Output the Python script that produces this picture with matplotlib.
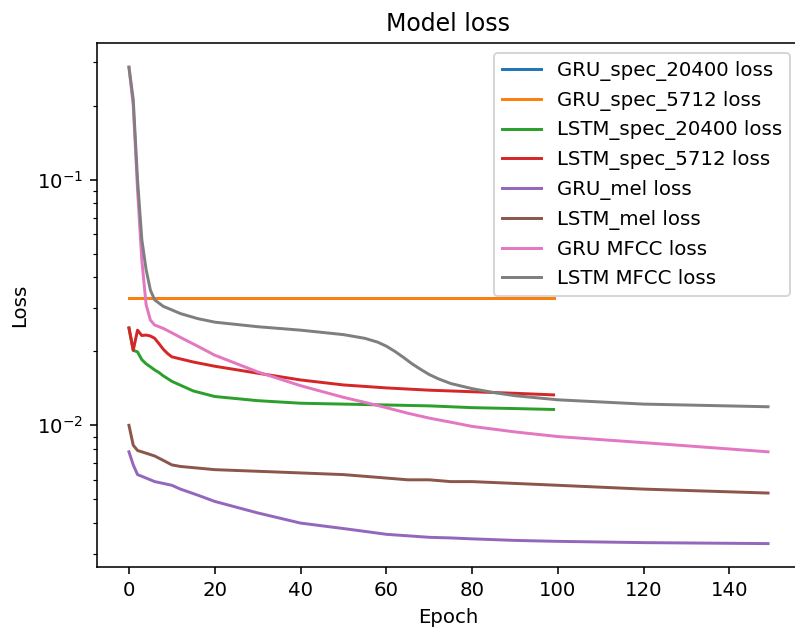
import numpy as np
import matplotlib
matplotlib.use("Agg")
import matplotlib.pyplot as plt

ep_100 = [0, 99]
gru_spec_20400 = [0.033, 0.033]
gru_spec_5712 = [0.033, 0.033]

ep_lstm_spec = [0, 1, 2, 3, 4, 5, 6, 7, 8, 9, 10, 15, 20, 30, 40, 50, 60, 70, 80, 90, 99]
lstm_spec_5712 = [0.0249, 0.0202, 0.0244, 0.0232, 0.0233, 0.0231, 0.0226, 0.0215, 0.0204, 0.0196, 0.0190,
                  0.0181, 0.0174, 0.0163, 0.0153, 0.0146, 0.0142, 0.0139, 0.0137, 0.0135, 0.0133]
lstm_spec_20400 = [0.0249, 0.0202, 0.0199, 0.0185, 0.0178, 0.0173, 0.0168, 0.0164, 0.0159, 0.0155, 0.0151,
                   0.0138, 0.0131, 0.0126, 0.0123, 0.0122, 0.0121, 0.0120, 0.0118, 0.0117, 0.0116]

ep_150 = [0, 1, 2, 3, 4, 5, 6, 8, 10, 12, 16, 20, 30, 40, 50, 55, 60, 65, 70, 75, 80, 90, 100, 120, 149]
gru_mel = [0.0078, 0.0069, 0.0063, 0.0062, 0.0061, 0.0060, 0.0059, 0.0058, 0.0057, 0.0055, 0.0052,
           0.0049, 0.0044, 0.0040, 0.0038, 0.0037, 0.0036, 0.00355, 0.0035, 0.00348, 0.00345, 0.0034,
           0.00337, 0.00333, 0.0033]
lstm_mel = [0.0100, 0.0083, 0.0079, 0.0078, 0.0077, 0.0076, 0.0075, 0.0072, 0.0069, 0.0068, 0.0067,
            0.0066, 0.0065, 0.0064, 0.0063, 0.0062, 0.0061, 0.0060, 0.0060, 0.0059, 0.0059, 0.0058,
            0.0057, 0.0055, 0.0053]
gru_mfcc = [0.287, 0.200, 0.091, 0.047, 0.031, 0.0268, 0.0256, 0.0248, 0.0238, 0.0228, 0.0210,
            0.0193, 0.0165, 0.0145, 0.0130, 0.0124, 0.0118, 0.0112, 0.0107, 0.0103, 0.0099, 0.0094,
            0.0090, 0.0085, 0.0078]

ep_lstm_mfcc = [0, 1, 2, 3, 4, 5, 6, 8, 10, 12, 16, 20, 30, 40, 50, 55, 58, 60, 62, 64, 66, 68, 70,
                72, 75, 80, 85, 90, 100, 120, 149]
lstm_mfcc = [0.287, 0.212, 0.100, 0.057, 0.043, 0.0355, 0.0324, 0.0305, 0.0295, 0.0285, 0.0272,
             0.0263, 0.0252, 0.0244, 0.0234, 0.0226, 0.0218, 0.0210, 0.0200, 0.0189, 0.0178, 0.0169,
             0.0161, 0.0155, 0.0148, 0.0141, 0.0136, 0.0132, 0.0127, 0.0122, 0.0119]

dpi = 142
fig = plt.figure(figsize=(795 / dpi, 628 / dpi), dpi=dpi)
# right spine sits just past the image edge in the reference
ax = fig.add_axes([97 / 795, 61 / 628, 703 / 795, 524 / 628])

ax.plot(ep_100, gru_spec_20400, label='GRU_spec_20400 loss')
ax.plot(ep_100, gru_spec_5712, label='GRU_spec_5712 loss')
ax.plot(ep_lstm_spec, lstm_spec_20400, label='LSTM_spec_20400 loss')
ax.plot(ep_lstm_spec, lstm_spec_5712, label='LSTM_spec_5712 loss')
ax.plot(ep_150, gru_mel, label='GRU_mel loss')
ax.plot(ep_150, lstm_mel, label='LSTM_mel loss')
ax.plot(ep_150, gru_mfcc, label='GRU MFCC loss')
ax.plot(ep_lstm_mfcc, lstm_mfcc, label='LSTM MFCC loss')

ax.set_yscale('log')
ax.set_ylim(0.00265, 0.36)
ax.set_xlim(-7.45, 156.45)
ax.set_title('Model loss')
ax.set_xlabel('Epoch')
ax.set_ylabel('Loss')
ax.legend(loc='upper right')

fig.savefig('out.png', dpi=dpi)
